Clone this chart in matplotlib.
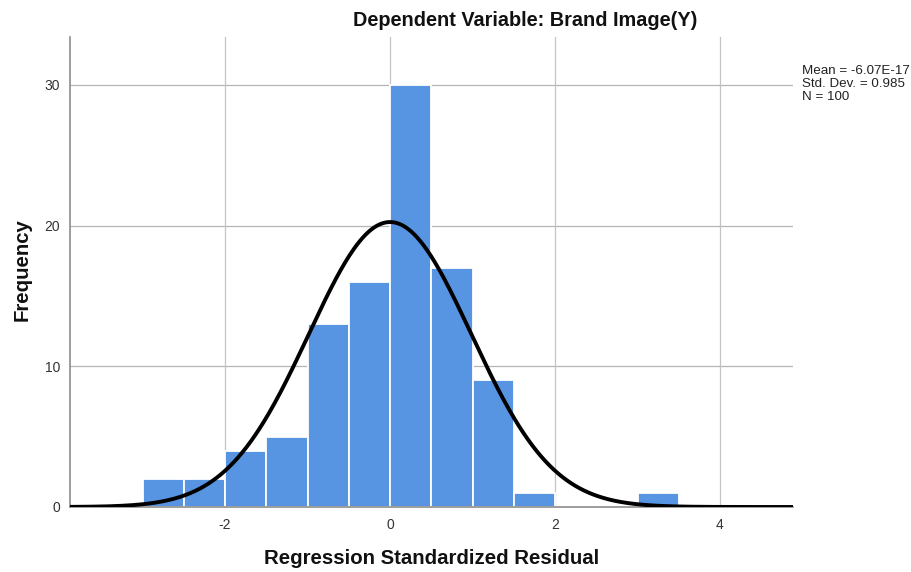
import numpy as np
import matplotlib
matplotlib.use("Agg")
import matplotlib.pyplot as plt

plt.rcParams["axes.unicode_minus"] = False

# Histogram bins (left edges) and counts
bin_edges = [-3.0, -2.5, -2.0, -1.5, -1.0, -0.5, 0.0, 0.5, 1.0, 1.5, 2.0, 2.5, 3.0, 3.5]
counts = [2, 2, 4, 5, 13, 16, 30, 17, 9, 1, 0, 0, 1]
mean = -6.07e-17
std_dev = 0.985
n_obs = 100
x_ticks = [-2, 0, 2, 4]
y_ticks = [0, 10, 20, 30]

fig = plt.figure(figsize=(9.11, 5.72), dpi=100)
ax = fig.add_axes([70/911, 1-507/572, (793-70)/911, (507-37)/572])

ax.set_xlim(-3.88, 4.885)
ax.set_ylim(0, 33.4)

for y in y_ticks[1:]:
    ax.axhline(y, color="#b4b4b4", lw=0.9, zorder=0)
for x in x_ticks:
    ax.axvline(x, color="#c4c4c4", lw=0.9, zorder=0)

widths = np.diff(bin_edges)
ax.bar(bin_edges[:-1], counts, width=widths, align="edge",
       color="#5795e3", edgecolor="white", linewidth=1.3, zorder=2)

xs = np.linspace(-3.88, 4.885, 500)
bw = widths[0]
ys = n_obs * bw / (std_dev * np.sqrt(2 * np.pi)) * np.exp(-0.5 * ((xs - mean) / std_dev) ** 2)
ax.plot(xs, ys, color="black", lw=2.8, zorder=3, solid_capstyle="butt")

for s in ["top", "right"]:
    ax.spines[s].set_visible(False)
for s in ["left", "bottom"]:
    ax.spines[s].set_color("#8c8c8c")
    ax.spines[s].set_linewidth(1.2)

ax.set_xticks(x_ticks)
ax.set_yticks(y_ticks)
ax.tick_params(length=0, labelsize=10, colors="#333333", pad=8)
ax.tick_params(axis="y", pad=7)

fig.text(525/911, 1-20/572, "Dependent Variable: Brand Image(Y)", ha="center", va="center",
         fontsize=14.3, fontweight="bold", color="#111111", family="Liberation Sans")
fig.text(432/911, 1-558/572, "Regression Standardized Residual", ha="center", va="center",
         fontsize=14.7, fontweight="bold", color="#111111", family="Liberation Sans")
fig.text(22/911, 1-270/572, "Frequency", ha="center", va="center", rotation=90,
         fontsize=14.7, fontweight="bold", color="#111111", family="Liberation Sans")

stats = f"Mean = -6.07E-17\nStd. Dev. = {std_dev}\nN = {n_obs}"
fig.text(802/911, 1-65/572, stats, ha="left", va="top", fontsize=9.6,
         color="#222222", linespacing=1.12, family="Liberation Sans")

for lab in ax.get_xticklabels() + ax.get_yticklabels():
    lab.set_family("Liberation Sans")

fig.savefig("out.png", dpi=100, facecolor="white")
